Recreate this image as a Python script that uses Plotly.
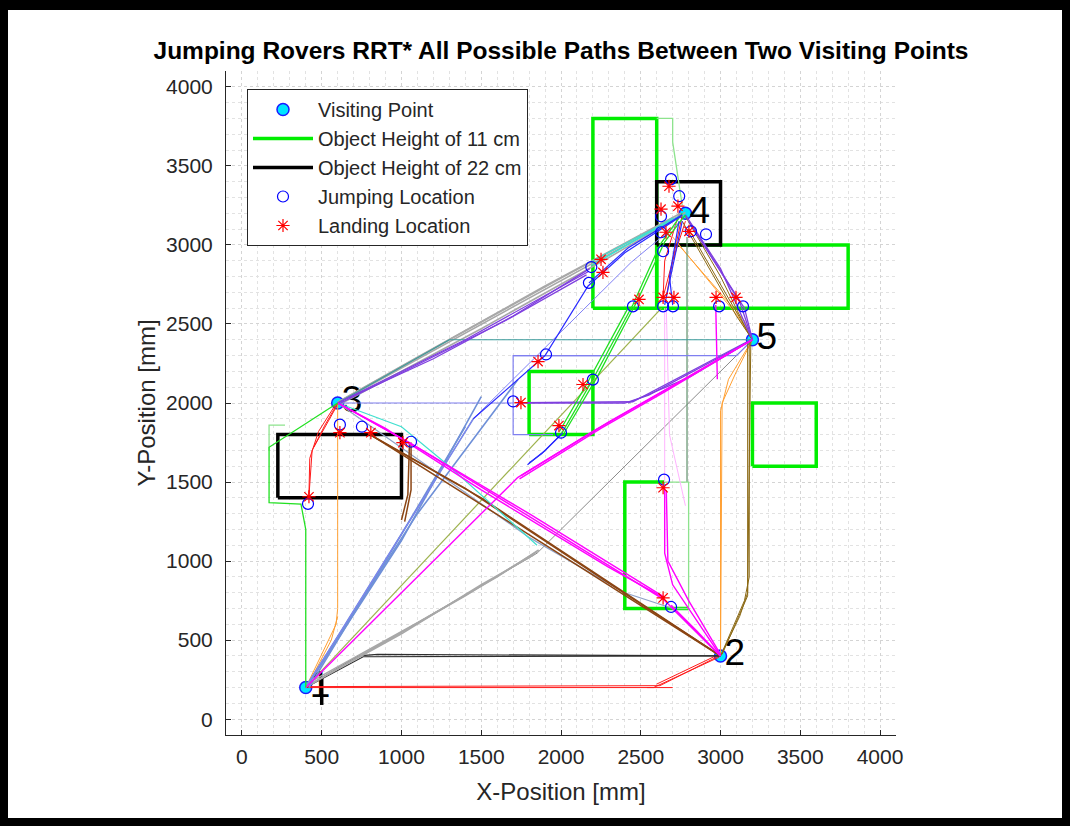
import plotly.graph_objects as go

# ---------------- data ----------------
VISIT_X = [400, 3000, 600, 2780, 3200]
VISIT_Y = [200, 400, 2000, 3200, 2400]
VISIT_LABELS = ["1", "2", "3", "4", "5"]

# obstacles as rectangles: x0, x1, y0, y1
OBST_11CM_RECTS = [
    (2200, 2600, 2600, 3800),
    (2600, 3800, 2600, 3000),
    (3200, 3600, 1600, 2000),
    (1800, 2200, 1800, 2200),
]
OBST_11CM_OPEN = [([2800, 2400, 2400, 2650], [700, 700, 1500, 1500])]
OBST_22CM_RECTS = [
    (225, 1000, 1400, 1800),
    (2600, 3000, 3000, 3400),
]
OBST_22CM_OPEN = [([500, 500], [90, 260])]

JUMP_X = [614, 752, 1060, 414, 1700, 1906, 2000, 2200, 2190, 2175, 2451, 2640, 2702,
          2991, 3141, 2690, 2741, 2627, 2627, 2640, 2909, 2815, 2646, 2690]
JUMP_Y = [1863, 1850, 1755, 1362, 2010, 2307, 1812, 2148, 2860, 2760, 2611, 2611, 2611,
          2611, 2611, 3416, 3308, 3181, 3080, 2960, 3067, 3086, 1515, 710]

LAND_X = [420, 614, 808, 1009, 1749, 1856, 1987, 2138, 2251, 2263, 2489, 2640, 2708,
          2972, 3097, 2677, 2627, 2733, 2658, 2802, 2640, 2640]
LAND_Y = [1407, 1812, 1812, 1749, 2003, 2262, 1857, 2117, 2909, 2826, 2655, 2668, 2668,
          2668, 2668, 3371, 3226, 3245, 3080, 3086, 1464, 767]

RED_PATHS = [
    ([400, 2580, 2990], [200, 200, 392]),
    ([400, 2620, 3000], [206, 212, 405]),
    ([2540, 2700], [200, 200]),
    ([2600, 2990], [222, 410]),
    ([600, 520, 440, 430, 420], [2000, 1860, 1700, 1550, 1410]),
    ([590, 480, 425, 420], [1995, 1820, 1650, 1420]),
    ([605, 540, 450], [2000, 1880, 1720]),
    ([2760, 2700, 2660], [3190, 2900, 2670]),
    ([2740, 2650, 2640], [3200, 2900, 2670]),
    ([2640, 2700, 2780], [2670, 2900, 3150]),
]
BLACK_PATHS = [
    ([400, 730, 850, 3000], [200, 400, 410, 400]),
    ([400, 760, 3000], [200, 395, 400]),
]
GRAY_THIN_PATHS = [
    ([400, 1850, 3200], [200, 1050, 2400]),
]
GRAY_PATHS = [
    ([420, 900, 1400, 1850], [215, 490, 780, 1060]),
    ([400, 1000, 1500, 1830], [205, 540, 850, 1040]),
    ([410, 1100, 1600, 1860], [225, 610, 900, 1070]),
    ([600, 2780], [2000, 3205]),
    ([610, 1300, 2000, 2700], [2010, 2400, 2790, 3170]),
    ([620, 1500, 2300, 2760], [1995, 2470, 2920, 3190]),
    ([600, 1100, 1900, 2750], [2005, 2290, 2740, 3200]),
]
PURPLE_PATHS = [
    ([600, 1400, 2170], [2000, 2400, 2830]),
    ([620, 1200, 1700, 2180], [2010, 2280, 2550, 2850]),
    ([610, 1100, 1650, 2160], [1995, 2240, 2520, 2810]),
    ([1750, 2400, 2550, 3200], [2000, 2000, 2050, 2400]),
    ([1760, 2450, 3190], [2002, 2008, 2400]),
    ([2420, 2800, 3200], [2000, 2160, 2400]),
    ([2800, 3150, 3200], [3150, 2600, 2400]),
    ([2780, 3000, 3190], [3190, 2850, 2420]),
    ([2820, 3120, 3200], [3120, 2640, 2400]),
]
TEAL_PATHS = [
    ([600, 1300, 3200], [2000, 2400, 2400]),
]
CYAN_PATHS = [
    ([600, 1000, 1300, 1850], [2000, 1850, 1600, 1100]),
    ([2200, 2500, 2760], [2900, 3060, 3190]),
    ([2210, 2700], [2880, 3170]),
    ([2190, 2450, 2740], [2870, 3020, 3180]),
]
SLATE_PATHS = [
    ([600, 1800, 2400, 2700, 3000], [2000, 1150, 800, 700, 400]),
]
LAVENDER_PATHS = [
    ([600, 1700], [2000, 2000]),
    ([1700, 1700, 1950], [2000, 1800, 1800]),
    ([1700, 1700, 2250], [2000, 2300, 2300]),
    ([1700, 3100, 3200], [2300, 2300, 2400]),
]
MAGENTA_PATHS = [
    ([600, 1050, 2640, 3000], [2000, 1750, 760, 400]),
    ([620, 1100, 1800, 2650], [1990, 1720, 1300, 770]),
    ([600, 900, 1500, 2300, 2640], [2000, 1840, 1450, 960, 770]),
    ([2700, 3000], [700, 400]),
    ([2690, 2850, 2990], [720, 560, 410]),
    ([400, 1730], [200, 1530]),
    ([1730, 2200, 2600, 3200], [1530, 1820, 2050, 2400]),
    ([1750, 2300, 2700, 3200], [1540, 1880, 2110, 2400]),
    ([1740, 2250, 2650, 3190], [1520, 1840, 2070, 2395]),
    ([2650, 2650, 2700, 3000], [1470, 1050, 850, 400]),
    ([2660, 2670, 2800, 3000], [1450, 1000, 750, 410]),
    ([2970, 2980], [2620, 2150]),
]
PINK_PATHS = [
    ([2650, 2650], [2600, 1500]),
    ([2660, 2680, 2780], [2600, 1800, 1350]),
]
BROWN_PATHS = [
    ([800, 1500, 3000], [1800, 1400, 400]),
    ([820, 1400, 2300, 3000], [1790, 1460, 860, 400]),
    ([790, 1200, 2000, 2990], [1810, 1550, 1040, 405]),
    ([1060, 1060, 1020], [1750, 1450, 1250]),
    ([1050, 1040, 1000], [1740, 1420, 1260]),
]
GOLD_PATHS = [
    ([3000, 3150, 3180, 3180, 3200], [400, 750, 900, 2380, 2400]),
    ([3000, 3120, 3170, 3170], [400, 650, 800, 2390]),
    ([3010, 3170, 3190], [410, 780, 2400]),
    ([2800, 3150, 3200], [3100, 2480, 2400]),
    ([2780, 3000, 3190], [3180, 2800, 2410]),
    ([2760, 3100, 3200], [3150, 2550, 2400]),
]
ORANGE_PATHS = [
    ([2720, 3150, 3200], [3020, 2520, 2400]),
    ([2700, 3100, 3200], [3050, 2560, 2400]),
    ([3000, 3000, 3050, 3200], [400, 1950, 2150, 2400]),
    ([3000, 3010, 3100, 3200], [400, 2000, 2200, 2400]),
    ([400, 590, 600, 600], [200, 600, 700, 1990]),
    ([410, 560, 600], [210, 500, 650]),
]
OLIVE_PATHS = [
    ([400, 2630], [200, 2600]),
]
GREEN_PATHS = [
    ([2000, 2200, 2450, 2620, 2760], [1800, 2150, 2620, 3000, 3200]),
    ([2020, 2230, 2480, 2650, 2780], [1810, 2170, 2650, 3020, 3190]),
    ([1990, 2150, 2420], [1820, 2100, 2600]),
    ([400, 400, 370, 170, 170, 600], [200, 1200, 1360, 1370, 1720, 2000]),
]
LTGREEN_PATHS = [
    ([170, 170, 270], [1700, 1860, 1860]),
    ([2600, 2700, 2700, 2760], [3800, 3800, 3650, 3250]),
    ([2650, 2800, 2800, 2700], [1500, 1500, 700, 700]),
]
DKGREEN_PATHS = [
    ([2790, 2790], [3050, 1500]),
]
CORNFLOWER_PATHS = [
    ([400, 1450], [200, 1900]),
    ([410, 1000, 1500], [210, 1130, 2040]),
    ([420, 900, 1400], [200, 1000, 1850]),
    ([400, 1100, 1730], [205, 1300, 2148]),
]
BLUE_PATHS = [
    ([1450, 1900, 2170, 2400, 2750], [1900, 2300, 2740, 2950, 3180]),
    ([2175, 2420, 2760], [2760, 2980, 3190]),
    ([2000, 1900, 1790], [1800, 1700, 1610]),
    ([2010, 1880, 1800], [1810, 1680, 1620]),
    ([2760, 2700, 2650], [3150, 2850, 2620]),
    ([2740, 2680, 2700], [3150, 2800, 2620]),
]
LIGHTBLUE_PATHS = [
    ([400, 1450, 2440, 2750], [200, 1900, 2890, 3150]),
]

X_TICKS = [0, 500, 1000, 1500, 2000, 2500, 3000, 3500, 4000]
Y_TICKS = [0, 500, 1000, 1500, 2000, 2500, 3000, 3500, 4000]

# ---------------- figure ----------------
FONT = "Liberation Sans, Arial, Helvetica, sans-serif"
W, H = 1070, 826
L, R, T, B = 226, 174, 71, 91
PW, PH = W - L - R, H - T - B
LABEL_DX = 25  # small horizontal offset of the point-number labels (mm)

fig = go.Figure()


def join(paths):
    xs, ys = [], []
    for px, py in paths:
        xs += list(px) + [None]
        ys += list(py) + [None]
    return xs, ys


def rect_paths(rects):
    return [([x0, x1, x1, x0, x0], [y0, y0, y1, y1, y0]) for x0, x1, y0, y1 in rects]


def add_lines(paths, color, width, name=None, legend=False, rank=None):
    xs, ys = join(paths)
    fig.add_trace(go.Scatter(x=xs, y=ys, mode="lines",
                             line=dict(color=color, width=width),
                             name=name or "", showlegend=legend,
                             legendrank=rank if rank else 1000,
                             hoverinfo="skip"))


# visiting points (under paths)
fig.add_trace(go.Scatter(x=VISIT_X, y=VISIT_Y, mode="markers", name="Visiting Point",
                         marker=dict(size=12, color="#00e5ff",
                                     line=dict(color="#1a1aff", width=1.5)),
                         legendrank=1))
fig.add_trace(go.Scatter(x=[v + LABEL_DX for v in VISIT_X], y=VISIT_Y, mode="text",
                         text=VISIT_LABELS, textposition="middle right",
                         textfont=dict(size=37, color="black", family=FONT),
                         showlegend=False, hoverinfo="skip"))

# obstacles
add_lines(rect_paths(OBST_11CM_RECTS) + OBST_11CM_OPEN, "#00ee00", 3.5,
          "Object Height of 11 cm", True, 2)
add_lines(rect_paths(OBST_22CM_RECTS) + OBST_22CM_OPEN, "#000000", 3.5,
          "Object Height of 22 cm", True, 3)

# paths
add_lines(RED_PATHS, "#ff1a1a", 1.0)
add_lines(BLACK_PATHS, "#2e2e2e", 1.2)
add_lines(GRAY_THIN_PATHS, "#8a8a8a", 1.0)
add_lines(GRAY_PATHS, "#a8a8a8", 1.6)
add_lines(OLIVE_PATHS, "#9db24d", 1.2)
add_lines(ORANGE_PATHS, "#ffa033", 1.0)
add_lines(DKGREEN_PATHS, "#5e8f6a", 1.2)
add_lines(LTGREEN_PATHS, "#8de38d", 1.3)
add_lines(PINK_PATHS, "#ffb3ff", 1.0)
add_lines(TEAL_PATHS, "#3a9a9a", 1.2)
add_lines(LAVENDER_PATHS, "#7f7ff0", 1.2)
add_lines(SLATE_PATHS, "#8fa2c8", 1.2)
add_lines(CORNFLOWER_PATHS, "#6f90d8", 1.6)
add_lines(LIGHTBLUE_PATHS, "#8080f5", 1.0)
add_lines(GOLD_PATHS, "#8b6914", 1.0)
add_lines(BROWN_PATHS, "#8b4513", 1.5)
add_lines(CYAN_PATHS, "#40e0d0", 1.2)
add_lines(PURPLE_PATHS, "#7f3fdf", 1.3)
add_lines(MAGENTA_PATHS, "#ff00ff", 1.4)
add_lines(GREEN_PATHS, "#22e022", 1.3)
add_lines(BLUE_PATHS, "#2a2aff", 1.2)

# jump / landing markers
fig.add_trace(go.Scatter(x=JUMP_X, y=JUMP_Y, mode="markers", name="Jumping Location",
                         marker=dict(symbol="circle-open", size=11, color="#0000ff",
                                     line=dict(color="#0000ff", width=1.2)),
                         legendrank=4))
fig.add_trace(go.Scatter(x=LAND_X, y=LAND_Y, mode="markers", name="Landing Location",
                         marker=dict(symbol="asterisk-open", size=11, color="#ff0000",
                                     line=dict(color="#ff0000", width=1.2)),
                         legendrank=5))


def px_x(p):
    return (p - L) / PW


def px_y(p):
    return (H - B - p) / PH


# outer black frame
for x0, x1, y0, y1 in [(0, 8, 0, H), (W - 8, W, 0, H), (0, W, 0, 10), (0, W, H - 8, H)]:
    fig.add_shape(type="rect", xref="paper", yref="paper",
                  x0=px_x(x0), x1=px_x(x1), y0=px_y(y1), y1=px_y(y0),
                  fillcolor="black", line=dict(width=0), layer="above")

axis_common = dict(
    range=[-100, 4100], showline=True, linecolor="#262626", linewidth=1,
    ticks="inside", ticklen=5, tickcolor="#262626", mirror=False,
    showgrid=True, gridcolor="#d4d4d4", griddash="dot", gridwidth=1,
    zeroline=False, tickfont=dict(size=21, color="#262626", family=FONT),
    minor=dict(dtick=100, tick0=0, showgrid=True, gridcolor="#e2e2e2",
               griddash="dot", gridwidth=1),
)

fig.update_layout(
    width=W, height=H,
    margin=dict(l=L, r=R, t=T, b=B, autoexpand=False),
    paper_bgcolor="white", plot_bgcolor="white",
    font=dict(family=FONT, color="#262626"),
    title=dict(text="Jumping Rovers RRT* All Possible Paths Between Two Visiting Points",
               x=0.5, xref="paper", xanchor="center",
               y=1 - 50 / H, yref="container", yanchor="middle",
               font=dict(size=24.5, color="black", family=FONT, weight="bold")),
    xaxis=dict(axis_common, tickvals=X_TICKS, ticklabelstandoff=3,
               title=dict(text="X-Position [mm]", standoff=15,
                          font=dict(size=24, color="#262626", family=FONT))),
    yaxis=dict(axis_common, tickvals=Y_TICKS, ticklabelstandoff=8,
               title=dict(text="Y-Position [mm]", standoff=3,
                          font=dict(size=24, color="#262626", family=FONT))),
    legend=dict(x=px_x(247), y=px_y(89), xanchor="left", yanchor="top",
                bgcolor="white", bordercolor="#262626", borderwidth=1,
                font=dict(size=20, color="#262626", family=FONT),
                itemwidth=60, tracegroupgap=0),
    showlegend=True,
)

fig.write_html("out.html",
               config={"displayModeBar": False},
               post_script="document.body.style.margin='0';"
                           "document.body.style.overflow='hidden';")
